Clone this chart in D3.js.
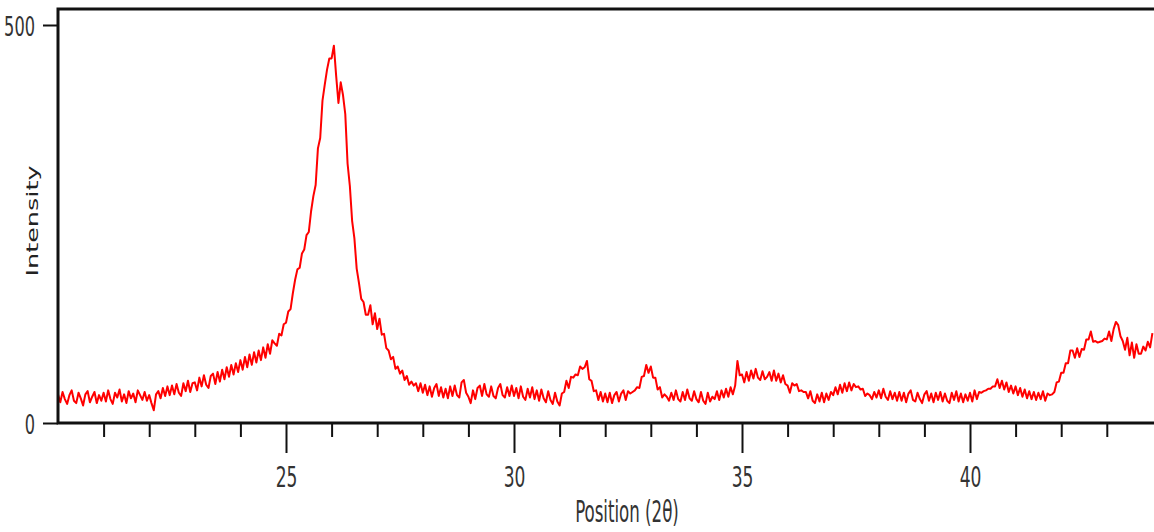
<!DOCTYPE html>
<html>
<head>
<meta charset="utf-8">
<script src="https://cdn.jsdelivr.net/npm/d3@7"></script>
<style>
  body { margin: 0; background: #fff; }
  svg { display: block; }
</style>
</head>
<body>
<div id="chart"></div>
<script>
// scan settings (2theta start and step in degrees)
var scanStart = 20.0, scanStep = 0.05;

// intensity readings, 20.00 .. 24.95
var counts20 = [
  36, 26, 39, 30, 24, 35, 41, 28, 25, 38, 31, 22, 36, 40, 26, 33, 39, 25, 35, 28,
  38, 27, 41, 30, 24, 38, 32, 42, 27, 36, 25, 40, 31, 37, 26, 41, 35, 29, 39, 28,
  35, 25, 16, 36, 40, 31, 44, 34, 46, 35, 47, 36, 49, 38, 34, 50, 40, 53, 39, 50,
  51, 41, 57, 46, 60, 48, 44, 59, 62, 49, 64, 52, 67, 55, 70, 58, 73, 61, 75, 64,
  79, 67, 83, 70, 86, 73, 89, 76, 91, 79, 95, 82, 99, 87, 104, 100, 97, 112, 110, 124
];
// 25.00 .. 29.95
var counts25 = [
  126, 140, 143, 163, 180, 193, 195, 213, 218, 236,
  240, 266, 285, 299, 345, 358, 405, 425, 444, 458,
  458, 474, 436, 402, 428, 412, 388, 326, 298, 254,
  232, 194, 176, 156, 152, 136, 136, 148, 124, 138,
  118, 131, 111, 112, 94, 91, 80, 83, 68, 71,
  62, 66, 54, 59, 48, 52, 47, 50, 40, 50,
  38, 48, 35, 46, 33, 44, 49, 34, 45, 32,
  43, 31, 46, 34, 47, 35, 32, 51, 54, 38,
  33, 25, 41, 30, 44, 47, 34, 49, 36, 33,
  46, 34, 31, 44, 49, 35, 32, 45, 34, 47
];
// 30.00 .. 34.95
var counts30 = [
  34, 44, 31, 46, 33, 29, 43, 32, 45, 30,
  41, 28, 42, 31, 26, 40, 29, 24, 38, 27,
  22, 37, 39, 53, 44, 58, 57, 61, 60, 71,
  68, 70, 78, 55, 53, 40, 41, 29, 39, 27,
  37, 26, 38, 25, 35, 39, 27, 37, 41, 29,
  40, 37, 39, 41, 45, 44, 58, 59, 73, 63,
  71, 57, 57, 42, 45, 32, 36, 33, 28, 38,
  29, 41, 30, 27, 39, 29, 42, 31, 28, 40,
  30, 26, 39, 28, 24, 38, 27, 33, 30, 40,
  29, 41, 32, 43, 33, 45, 36, 47, 78, 60
];
// 35.00 .. 39.95
var counts35 = [
  61, 51, 64, 53, 66, 56, 68, 57, 54, 65,
  55, 58, 64, 53, 66, 53, 62, 51, 60, 49,
  47, 38, 50, 47, 49, 40, 41, 39, 39, 31,
  40, 28, 25, 36, 27, 38, 26, 37, 29, 39,
  35, 45, 36, 48, 38, 50, 40, 51, 41, 49,
  45, 46, 42, 43, 34, 37, 35, 30, 39, 32,
  41, 31, 43, 33, 29, 40, 30, 38, 28, 39,
  28, 38, 26, 37, 41, 29, 27, 38, 30, 25,
  36, 40, 28, 37, 26, 38, 29, 39, 27, 37,
  28, 25, 38, 29, 40, 27, 37, 26, 36, 28
];
// 40.00 .. 44.00
var counts40 = [
  38, 27, 41, 30, 39, 38, 40, 41, 43, 43,
  46, 46, 55, 44, 53, 42, 51, 39, 47, 37,
  46, 35, 44, 33, 42, 31, 40, 30, 39, 29,
  38, 30, 40, 28, 37, 35, 36, 39, 51, 52,
  63, 63, 75, 75, 91, 91, 82, 94, 83, 93,
  92, 105, 105, 115, 102, 103, 101, 102, 103, 106,
  105, 115, 103, 118, 127, 123, 109, 103, 92, 107,
  85, 101, 82, 99, 87, 87, 96, 91, 102, 95,
  113
];

var xMajorTicks = [25, 30, 35, 40];
var xMinorTicks = [21, 22, 23, 24, 26, 27, 28, 29, 31, 32, 33, 34, 36, 37, 38, 39, 41, 42, 43];
var yTicks = [0, 500];

function mainInit() {
  var width = 1154, height = 532;

  var counts = counts20.concat(counts25, counts30, counts35, counts40);
  var pts = counts.map(function(c, i) {
    return { t: +(scanStart + i * scanStep).toFixed(2), c: c };
  });

  var x = d3.scaleLinear().domain([20, 44]).range([58, 1152.4]);
  var y = d3.scaleLinear().domain([0, 500]).range([423, 25]);

  var svg = d3.select("#chart").append("svg")
      .attr("width", width)
      .attr("height", height);

  var ink = "#111";
  var tickFont = "'Liberation Sans Narrow', 'DejaVu Sans Condensed', 'Roboto', sans-serif";

  // data trace
  var line = d3.line()
      .x(function(d) { return x(d.t); })
      .y(function(d) { return y(d.c); });

  svg.append("path")
     .datum(pts)
     .attr("fill", "none")
     .attr("stroke", "#ff0000")
     .attr("stroke-width", 2)
     .attr("stroke-linejoin", "round")
     .attr("d", line);

  // minor x ticks
  var xMinor = svg.append("g")
      .attr("transform", "translate(0," + y(0) + ")")
      .call(d3.axisBottom(x).tickValues(xMinorTicks).tickSize(14).tickFormat(""));
  xMinor.select(".domain").remove();

  // major x ticks + labels
  var xMajor = svg.append("g")
      .attr("transform", "translate(0," + y(0) + ")")
      .call(d3.axisBottom(x).tickValues(xMajorTicks).tickSize(30).tickFormat(d3.format("d")));
  xMajor.select(".domain").remove();
  xMajor.selectAll("text")
      .attr("y", 0).attr("dy", 0)
      .attr("transform", "translate(0,64) scale(1,1.5)")
      .style("font-family", tickFont)
      .style("font-size", "19px")
      .attr("fill", "#333");

  // y ticks + labels
  var yAx = svg.append("g")
      .attr("transform", "translate(" + x(20) + ",0)")
      .call(d3.axisLeft(y).tickValues(yTicks).tickSize(15).tickFormat(d3.format("d")));
  yAx.select(".domain").remove();
  yAx.selectAll("text")
      .attr("x", 0).attr("dy", 0)
      .attr("transform", "translate(-23,10) scale(1,1.5)")
      .style("font-family", tickFont)
      .style("font-size", "18px")
      .attr("fill", "#333");

  svg.selectAll(".tick line")
      .attr("stroke", ink)
      .attr("stroke-width", 2);

  // frame: left, bottom and top edges
  var frame = svg.append("g")
      .attr("stroke", ink)
      .attr("stroke-width", 3)
      .attr("fill", "none");
  frame.append("path")
      .attr("d", "M" + width + "," + y(520) + "H" + x(20) + "V" + y(0) + "H" + width);

  // axis titles
  svg.append("text")
      .attr("transform", "translate(627,522) scale(1,1.6)")
      .attr("text-anchor", "middle")
      .style("font-family", tickFont)
      .style("font-size", "18.5px")
      .attr("fill", "#333")
      .text("Position (2θ)");

  svg.append("text")
      .attr("transform", "translate(38,221) scale(1,1.65) rotate(-90)")
      .attr("text-anchor", "middle")
      .style("font-family", "'DejaVu Sans', Verdana, sans-serif")
      .style("font-size", "15.5px")
      .attr("fill", "#222")
      .text("Intensity");
}

window.onload = mainInit;
</script>
</body>
</html>
